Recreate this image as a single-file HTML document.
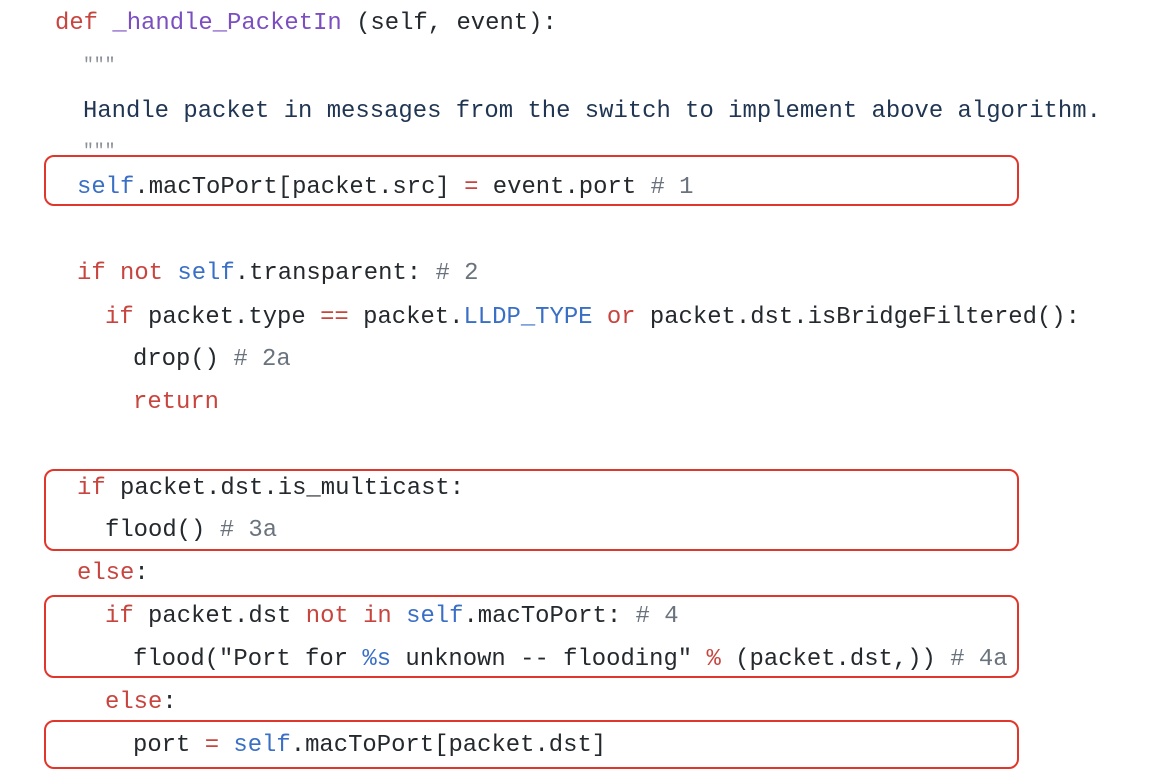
<!DOCTYPE html>
<html><head><meta charset="utf-8"><style>
body{margin:0;width:1152px;height:772px;background:#fff;position:relative;overflow:hidden;font-family:"Liberation Mono",monospace;font-size:23.9px;color:#24292e}
.l{position:absolute;white-space:pre;line-height:30px;height:30px}
.k{color:#c8453f}.f{color:#7b4fc0}.s{color:#3a6fc6}.c{color:#6a737d}.q{color:#8a8f96}.d{color:#1f3552}
.b{position:absolute;border:2px solid #e0372d;border-radius:10px;box-sizing:border-box}
</style></head><body>
<div class="l" style="left:55px;top:9px"><span class="k">def</span> <span class="f">_handle_PacketIn</span> (self, event):</div>
<div class="l q" style="left:83px;top:51px;font-size:18px">"""</div>
<div class="l d" style="left:83px;top:97px">Handle packet in messages from the switch to implement above algorithm.</div>
<div class="l q" style="left:83px;top:137px;font-size:18px">"""</div>
<div class="l" style="left:77px;top:173px"><span class="s">self</span>.macToPort[packet.src] <span class="k">=</span> event.port <span class="c"># 1</span></div>
<div class="l" style="left:77px;top:259px"><span class="k">if not</span> <span class="s">self</span>.transparent: <span class="c"># 2</span></div>
<div class="l" style="left:105px;top:303px"><span class="k">if</span> packet.type <span class="k">==</span> packet.<span class="s">LLDP_TYPE</span> <span class="k">or</span> packet.dst.isBridgeFiltered():</div>
<div class="l" style="left:133px;top:345px">drop() <span class="c"># 2a</span></div>
<div class="l k" style="left:133px;top:388px">return</div>
<div class="l" style="left:77px;top:474px"><span class="k">if</span> packet.dst.is_multicast:</div>
<div class="l" style="left:105px;top:516px">flood() <span class="c"># 3a</span></div>
<div class="l" style="left:77px;top:559px"><span class="k">else</span>:</div>
<div class="l" style="left:105px;top:602px"><span class="k">if</span> packet.dst <span class="k">not in</span> <span class="s">self</span>.macToPort: <span class="c"># 4</span></div>
<div class="l" style="left:133px;top:645px">flood("Port for <span class="s">%s</span> unknown -- flooding" <span class="k">%</span> (packet.dst,)) <span class="c"># 4a</span></div>
<div class="l" style="left:105px;top:688px"><span class="k">else</span>:</div>
<div class="l" style="left:133px;top:731px">port <span class="k">=</span> <span class="s">self</span>.macToPort[packet.dst]</div>
<div class="b" style="left:44px;top:155px;width:975px;height:51px"></div>
<div class="b" style="left:44px;top:469px;width:975px;height:82px"></div>
<div class="b" style="left:44px;top:595px;width:975px;height:83px"></div>
<div class="b" style="left:44px;top:720px;width:975px;height:49px"></div>
</body></html>
